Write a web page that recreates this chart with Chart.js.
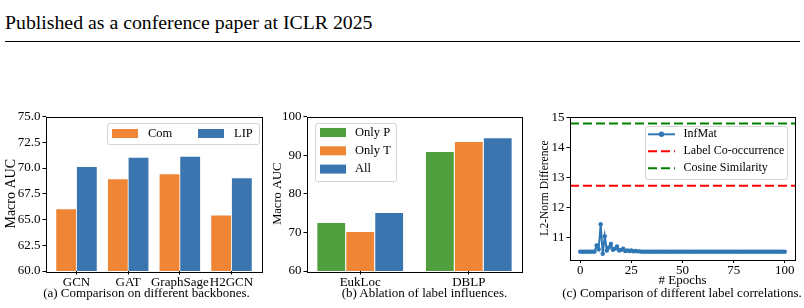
<!DOCTYPE html>
<html>
<head>
<meta charset="utf-8">
<script src="https://cdn.jsdelivr.net/npm/chart.js@4.4.1/dist/chart.umd.min.js"></script>
<style>
  body { margin: 0; width: 804px; height: 308px; background: #fff; position: relative; overflow: hidden; font-family: "Liberation Serif", serif; color: #000; }
  .hdr { position: absolute; left: 5px; top: 11.5px; font-size: 19.8px; line-height: 20px; white-space: nowrap; }
  .rule { position: absolute; left: 5px; top: 41px; width: 795px; height: 1px; background: #000; }
  .panel { position: absolute; top: 100px; }
  .cap { position: absolute; top: 286px; font-size: 13px; line-height: 13px; white-space: nowrap; transform: translateX(-50%); }
</style>
</head>
<body>
<div class="hdr">Published as a conference paper at ICLR 2025</div>
<div class="rule"></div>

<div class="panel" style="left:0px"><canvas id="chartA" width="270" height="190"></canvas></div>
<div class="panel" style="left:270px"><canvas id="chartB" width="260" height="190"></canvas></div>
<div class="panel" style="left:530px"><canvas id="chartC" width="274" height="190"></canvas></div>

<div class="cap" style="left:146.5px">(a) Comparison on different backbones.</div>
<div class="cap" style="left:424.5px">(b) Ablation of label influences.</div>
<div class="cap" style="left:682px">(c) Comparison of different label correlations.</div>

<script>
// (a) backbones
const backbones = ["GCN", "GAT", "GraphSage", "H2GCN"];
const comAuc = [66.0, 68.9, 69.4, 65.4];
const lipAuc = [70.1, 71.0, 71.1, 69.0];
const aucTicksA = [60, 62.5, 65, 67.5, 70, 72.5, 75];

// (b) label influences
const benchmarks = ["EukLoc", "DBLP"];
const onlyP = [72.4, 90.8];
const onlyT = [70.1, 93.4];
const allAuc = [75.0, 94.4];
const aucTicksB = [60, 70, 80, 90, 100];

// (c) label correlations, one value per epoch 0..100
const infMat = [
  10.54, 10.54, 10.54, 10.54, 10.54, 10.54, 10.54, 10.54, 10.75, 10.62,
  11.45, 10.47, 11.05, 10.58, 10.68, 10.80, 10.60, 10.64, 10.71, 10.58,
  10.60, 10.64, 10.56, 10.58, 10.56, 10.58, 10.55, 10.56, 10.55, 10.55,
  10.54, 10.54, 10.54, 10.54, 10.54, 10.54, 10.54, 10.54, 10.54, 10.54,
  10.54, 10.54, 10.54, 10.54, 10.54, 10.54, 10.54, 10.54, 10.54, 10.54,
  10.54, 10.54, 10.54, 10.54, 10.54, 10.54, 10.54, 10.54, 10.54, 10.54,
  10.54, 10.54, 10.54, 10.54, 10.54, 10.54, 10.54, 10.54, 10.54, 10.54,
  10.54, 10.54, 10.54, 10.54, 10.54, 10.54, 10.54, 10.54, 10.54, 10.54,
  10.54, 10.54, 10.54, 10.54, 10.54, 10.54, 10.54, 10.54, 10.54, 10.54,
  10.54, 10.54, 10.54, 10.54, 10.54, 10.54, 10.54, 10.54, 10.54, 10.54,
  10.54
];
const labelCoOcc = 12.73;
const cosineSim = 14.80;
const epochTicks = [0, 25, 50, 75, 100];
const l2Ticks = [11, 12, 13, 14, 15];

const ORANGE = "#ef8636";
const BLUE = "#3a75af";
const GREEN = "#519e3e";
const FONT = '"Liberation Serif", serif';

Chart.defaults.font.family = FONT;
Chart.defaults.color = "#000";

// black box around the plot area, like matplotlib spines
const frame = {
  id: "frame",
  afterDatasetsDraw(chart) {
    const { ctx, chartArea: a } = chart;
    ctx.save();
    ctx.strokeStyle = "#000";
    ctx.lineWidth = 1;
    ctx.strokeRect(Math.round(a.left) + 0.5, Math.round(a.top) + 0.5,
      Math.round(a.right - a.left), Math.round(a.bottom - a.top));
    ctx.restore();
  },
};

// matplotlib-like legend box
const mplLegend = {
  id: "mplLegend",
  afterDraw(chart, args, o) {
    const ctx = chart.ctx;
    ctx.save();
    ctx.beginPath();
    ctx.roundRect(o.x + 0.5, o.y + 0.5, o.w, o.h, 2.5);
    ctx.fillStyle = "rgba(255,255,255,0.8)";
    ctx.fill();
    ctx.strokeStyle = "#d4d4d4";
    ctx.lineWidth = 1;
    ctx.stroke();
    ctx.font = o.size + "px " + FONT;
    ctx.textBaseline = "middle";
    chart.data.datasets.forEach((ds, i) => {
      const col = i % o.ncol;
      const row = Math.floor(i / o.ncol);
      const hx = o.x + o.padX + col * o.colW;
      const hy = o.y + o.padY + row * o.rowH;
      if (ds.type === "line") {
        ctx.strokeStyle = ds.borderColor;
        ctx.lineWidth = ds.borderWidth;
        ctx.setLineDash(ds.borderDash || []);
        ctx.beginPath();
        ctx.moveTo(hx, hy);
        ctx.lineTo(hx + o.hw, hy);
        ctx.stroke();
        ctx.setLineDash([]);
        if (ds.pointRadius > 0) {
          ctx.fillStyle = ds.borderColor;
          ctx.beginPath();
          ctx.arc(hx + o.hw / 2, hy, ds.pointRadius + 0.5, 0, Math.PI * 2);
          ctx.fill();
        }
      } else {
        ctx.fillStyle = ds.backgroundColor;
        ctx.fillRect(hx, hy - o.hh / 2, o.hw, o.hh);
      }
      ctx.fillStyle = "#000";
      ctx.fillText(ds.label, hx + o.hw + o.gap, hy);
    });
    ctx.restore();
  },
};

function tickGrid() {
  return { display: true, drawOnChartArea: false, drawTicks: true, offset: false, tickLength: 3.5, color: "#000", lineWidth: 1 };
}

function yAxis(tickVals, min, max, fmt, title, titleSize, titlePad, width) {
  return {
    type: "linear",
    min: min,
    max: max,
    afterBuildTicks: (s) => { s.ticks = tickVals.map((v) => ({ value: v })); },
    afterFit: (s) => { s.width = width; },
    ticks: { callback: fmt, font: { size: 13 }, color: "#000", padding: 2 },
    grid: tickGrid(),
    border: { display: false },
    title: { display: true, text: title, font: { size: titleSize }, color: "#000", padding: { top: titlePad, bottom: 0 } },
  };
}

function catAxis(names, min, max, height) {
  return {
    type: "linear",
    min: min,
    max: max,
    offset: false,
    afterBuildTicks: (s) => { s.ticks = names.map((n, i) => ({ value: i })); },
    afterFit: (s) => { s.height = height; },
    ticks: { callback: (v) => names[v], font: { size: 13 }, color: "#000", padding: 0, maxRotation: 0, autoSkip: false },
    grid: tickGrid(),
    border: { display: false },
  };
}

function barSet(label, values, color) {
  return {
    type: "bar",
    label: label,
    data: values,
    backgroundColor: color,
    borderWidth: 0,
    categoryPercentage: 0.8,
    barPercentage: 0.96,
  };
}

const common = {
  responsive: false,
  animation: false,
  devicePixelRatio: 1,
};

// (a)
new Chart(document.getElementById("chartA"), {
  type: "bar",
  data: {
    labels: backbones.map((n, i) => i),
    datasets: [barSet("Com", comAuc, ORANGE), barSet("LIP", lipAuc, BLUE)],
  },
  options: {
    ...common,
    layout: { padding: { top: 16.5, right: 8, left: 0, bottom: 0 } },
    scales: {
      x: catAxis(backbones, -0.59, 3.59, 19),
      y: yAxis(aucTicksA, 60, 75, (v) => v.toFixed(1), "Macro AUC", 14, 2.6, 46),
    },
    plugins: {
      legend: { display: false },
      tooltip: { enabled: false },
      mplLegend: { x: 107, y: 23, w: 152, h: 21, ncol: 2, colW: 86, rowH: 0, padX: 5, padY: 10.5, hw: 26, hh: 9, gap: 10, size: 12.5 },
    },
  },
  plugins: [frame, mplLegend],
});

// (b)
new Chart(document.getElementById("chartB"), {
  type: "bar",
  data: {
    labels: benchmarks.map((n, i) => i),
    datasets: [barSet("Only P", onlyP, GREEN), barSet("Only T", onlyT, ORANGE), barSet("All", allAuc, BLUE)],
  },
  options: {
    ...common,
    layout: { padding: { top: 16.5, right: 8, left: 0, bottom: 0 } },
    scales: {
      x: catAxis(benchmarks, -0.49, 1.49, 19),
      y: yAxis(aucTicksB, 60, 100, (v) => String(v), "Macro AUC", 12.5, 0, 37),
    },
    plugins: {
      legend: { display: false },
      tooltip: { enabled: false },
      mplLegend: { x: 45, y: 23, w: 81, h: 58, ncol: 1, colW: 0, rowH: 18.3, padX: 5, padY: 9.5, hw: 26, hh: 9, gap: 9, size: 12.5 },
    },
  },
  plugins: [frame, mplLegend],
});

// (c)
const xMinC = -5;
const xMaxC = 105;
function hLine(label, value, color) {
  return {
    type: "line",
    label: label,
    data: [{ x: xMinC, y: value }, { x: xMaxC, y: value }],
    borderColor: color,
    borderWidth: 2,
    borderDash: [9, 4],
    pointRadius: 0,
  };
}

new Chart(document.getElementById("chartC"), {
  type: "line",
  data: {
    datasets: [
      {
        type: "line",
        label: "InfMat",
        data: infMat.map((v, i) => ({ x: i, y: v })),
        borderColor: "#2f76b4",
        backgroundColor: "#2f76b4",
        borderWidth: 2,
        pointRadius: 2.2,
        pointBorderWidth: 0,
        pointBackgroundColor: "#2f76b4",
        tension: 0,
      },
      hLine("Label Co-occurrence", labelCoOcc, "#ff0000"),
      hLine("Cosine Similarity", cosineSim, "#008000"),
    ],
  },
  options: {
    ...common,
    layout: { padding: { top: 16.5, right: 9, left: 0, bottom: 0 } },
    scales: {
      x: {
        type: "linear",
        min: xMinC,
        max: xMaxC,
        afterBuildTicks: (s) => { s.ticks = epochTicks.map((v) => ({ value: v })); },
        afterFit: (s) => { s.height = 30.5; },
        ticks: { font: { size: 13 }, color: "#000", padding: 0, maxRotation: 0 },
        grid: tickGrid(),
        border: { display: false },
        title: { display: true, text: "# Epochs", font: { size: 13 }, color: "#000", padding: { top: 0, bottom: 2 } },
      },
      y: yAxis(l2Ticks, 10.28, 15.03, (v) => String(v), "L2-Norm Difference", 11.5, 8.1, 40),
    },
    plugins: {
      legend: { display: false },
      tooltip: { enabled: false },
      mplLegend: { x: 115, y: 26, w: 142, h: 53, ncol: 1, colW: 0, rowH: 17, padX: 3, padY: 8.3, hw: 27, hh: 9, gap: 8.5, size: 12 },
    },
  },
  plugins: [frame, mplLegend],
});
</script>
</body>
</html>
